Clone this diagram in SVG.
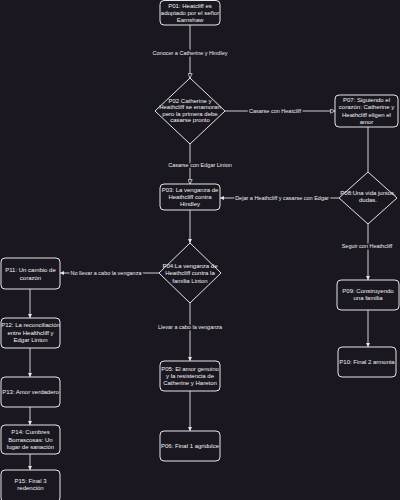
<svg xmlns="http://www.w3.org/2000/svg" width="400" height="500" viewBox="0 0 400 500">
<style>
.n{fill:#1a1720;stroke:#e6e6e6;stroke-width:1}
.t{font-family:"Liberation Sans",Arial,sans-serif;font-size:6px;fill:#f2f2f2;text-anchor:middle}
.e{stroke:#cfcfcf;stroke-width:1;fill:none}
.l{font-family:"Liberation Sans",Arial,sans-serif;font-size:5.5px;fill:#eeeeee;text-anchor:middle;stroke:#1a1720;stroke-width:3;paint-order:stroke}
</style>
<defs>
<marker id="af" viewBox="0 0 6 6" refX="6" refY="3" markerWidth="4" markerHeight="4" orient="auto" markerUnits="userSpaceOnUse"><path d="M0,0 L6,3 L0,6 Z" fill="#e6e6e6"/></marker>
<marker id="ao" viewBox="0 0 8 8" refX="7.5" refY="4" markerWidth="5" markerHeight="5" orient="auto" markerUnits="userSpaceOnUse"><path d="M0.5,0.5 L7.5,4 L0.5,7.5 Z" fill="#1a1720" stroke="#e6e6e6" stroke-width="1.2"/></marker>
</defs>
<rect width="400" height="500" fill="#1a1720"/>
<g id="connectors">
<line class="e" x1="190" y1="25" x2="190" y2="78" marker-end="url(#ao)"/>
<text class="l" x="190" y="55">Conocer a Catherine y Hindley</text>
<line class="e" x1="225" y1="111" x2="335" y2="111" marker-end="url(#ao)"/>
<text class="l" x="275" y="113">Casarse con Heatcliff</text>
<line class="e" x1="190" y1="144" x2="190" y2="184" marker-end="url(#ao)"/>
<text class="l" x="200" y="167">Casarse con Edgar Linton</text>
<line class="e" x1="339" y1="198" x2="220" y2="198" marker-end="url(#af)"/>
<text class="l" x="282" y="200">Dejar a Heathcliff y casarse con Edgar</text>
<line class="e" x1="190" y1="210" x2="190" y2="243" marker-end="url(#af)"/>
<line class="e" x1="159" y1="273" x2="60" y2="273" marker-end="url(#af)"/>
<text class="l" x="106" y="275">No llevar a cabo la venganza</text>
<line class="e" x1="30" y1="289" x2="30" y2="318" marker-end="url(#af)"/>
<line class="e" x1="30" y1="348" x2="30" y2="377" marker-end="url(#af)"/>
<line class="e" x1="30" y1="407" x2="30" y2="425" marker-end="url(#af)"/>
<line class="e" x1="30" y1="454" x2="30" y2="470" marker-end="url(#af)"/>
<line class="e" x1="190" y1="303" x2="190" y2="361" marker-end="url(#af)"/>
<text class="l" x="190" y="329">Llevar a cabo la venganza</text>
<line class="e" x1="190" y1="391" x2="190" y2="431" marker-end="url(#af)"/>
<line class="e" x1="368" y1="127" x2="368" y2="172"/>
<line class="e" x1="368" y1="224" x2="368" y2="280" marker-end="url(#af)"/>
<text class="l" x="367" y="248">Seguir con Heathcliff</text>
<line class="e" x1="368" y1="310" x2="368" y2="347" marker-end="url(#af)"/>
</g>
<g id="P01"><rect class="n" x="160" y="0.5" width="60" height="24.5" rx="4"/>
<text class="t" x="190" y="8">P01: Heatcliff es</text><text class="t" x="190" y="15">adoptado por el señor</text><text class="t" x="190" y="22">Earnshaw</text></g>
<g id="P02"><polygon class="n" points="190,78 225,111 190,144 155,111"/>
<text class="t" x="190" y="103">P02 Catherine y</text><text class="t" x="190" y="109">Heathcliff se enamoran</text><text class="t" x="190" y="115.5">pero la primera debe</text><text class="t" x="190" y="122">casarse pronto</text></g>
<g id="P07"><rect class="n" x="335" y="95" width="63" height="32" rx="4"/>
<text class="t" x="366.5" y="102">P07: Siguiendo el</text><text class="t" x="366.5" y="109">corazón: Catherine y</text><text class="t" x="366.5" y="117">Heathcliff eligen el</text><text class="t" x="366.5" y="124">amor</text></g>
<g id="P03"><rect class="n" x="160" y="184" width="60" height="26" rx="4"/>
<text class="t" x="190" y="192">P03: La venganza de</text><text class="t" x="190" y="199">Heathcliff contra</text><text class="t" x="190" y="206">Hindley</text></g>
<g id="P08"><polygon class="n" points="368,172 397,198 368,224 339,198"/>
<text class="t" x="368" y="195">P08:Una vida juntos,</text><text class="t" x="368" y="202">dudas.</text></g>
<g id="P04"><polygon class="n" points="190,243 221,273 190,303 159,273"/>
<text class="t" x="190" y="268">P04:La venganza de</text><text class="t" x="190" y="275">Heathcliff contra la</text><text class="t" x="190" y="283">familia Linton</text></g>
<g id="P11"><rect class="n" x="1" y="258" width="59" height="31" rx="4"/>
<text class="t" x="30.5" y="272">P11: Un cambio de</text><text class="t" x="30.5" y="280">corazón</text></g>
<g id="P12"><rect class="n" x="1" y="318" width="59" height="30" rx="4"/>
<text class="t" x="30.5" y="327">P12: La reconciliación</text><text class="t" x="30.5" y="335">entre Healthcliff y</text><text class="t" x="30.5" y="342">Edgar Linton</text></g>
<g id="P13"><rect class="n" x="1" y="377" width="59" height="30" rx="4"/>
<text class="t" x="30.5" y="394">P13: Amor verdadero</text></g>
<g id="P14"><rect class="n" x="1" y="425" width="59" height="29" rx="4"/>
<text class="t" x="30.5" y="434">P14: Cumbres</text><text class="t" x="30.5" y="442">Borrascosas: Un</text><text class="t" x="30.5" y="449">lugar de sanación</text></g>
<g id="P15"><rect class="n" x="1" y="470" width="59" height="32" rx="4"/>
<text class="t" x="30.5" y="483">P15: Final 3</text><text class="t" x="30.5" y="490">redención</text></g>
<g id="P05"><rect class="n" x="160" y="361" width="60" height="30" rx="4"/>
<text class="t" x="190" y="371">P05: El amor genuino</text><text class="t" x="190" y="378">y la resistencia de</text><text class="t" x="190" y="385">Catherine y Hareton</text></g>
<g id="P06"><rect class="n" x="160" y="431" width="60" height="30" rx="4"/>
<text class="t" x="190" y="448">P06: Final 1 agridulce</text></g>
<g id="P09"><rect class="n" x="337" y="280" width="62" height="30" rx="4"/>
<text class="t" x="368" y="293">P09: Construyendo</text><text class="t" x="368" y="300">una familia</text></g>
<g id="P10"><rect class="n" x="338" y="347" width="58" height="30" rx="4"/>
<text class="t" x="367" y="364">P10: Final 2 armonia</text></g>
</svg>
